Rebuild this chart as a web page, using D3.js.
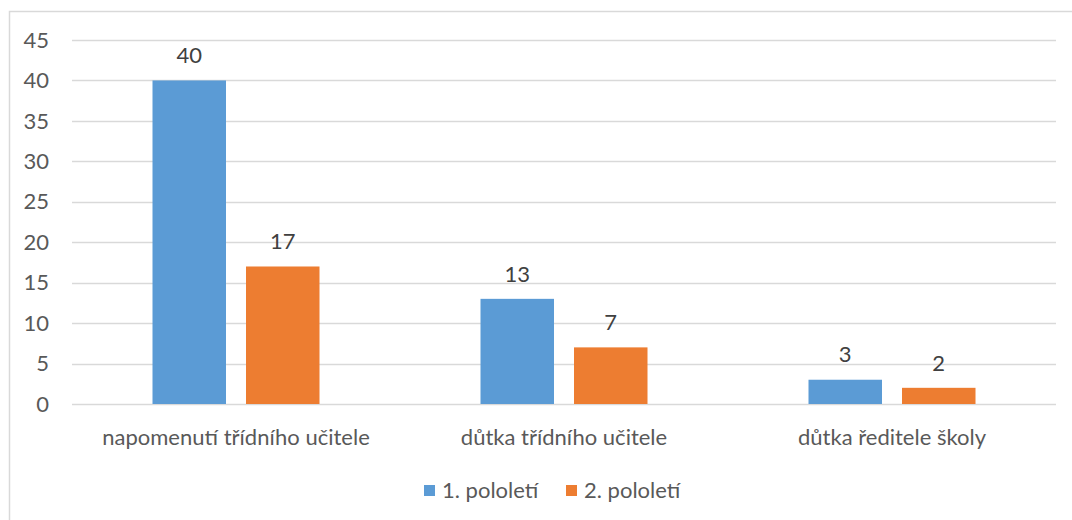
<div id="chart"></div>
<script src="https://d3js.org/d3.v7.min.js"></script>
<script>
var categories = ["napomenutí třídního učitele", "důtka třídního učitele", "důtka ředitele školy"];
var seriesNames = ["1. pololetí", "2. pololetí"];
var series1 = [40, 13, 3];
var series2 = [17, 7, 2];
var yTicks = [0, 5, 10, 15, 20, 25, 30, 35, 40, 45];
var colors = ["#5b9bd5", "#ed7d31"];

var width = 1072, height = 520;
var fontFam = "Lato, 'Open Sans', sans-serif";
var fs = "22px";

var svg = d3.select("#chart").append("svg")
  .attr("width", width).attr("height", height)
  .style("display", "block")
  .style("font-family", fontFam);

d3.select("body").style("margin", 0).style("background", "#fff");

// frame
svg.append("rect")
  .attr("x", 9.5).attr("y", 11.5)
  .attr("width", width).attr("height", height)
  .attr("fill", "none").attr("stroke", "#d9d9d9").attr("stroke-width", 1.5);

var x0 = d3.scaleBand().domain(categories).range([72, 1056]);
var x1 = d3.scaleBand().domain(seriesNames)
  .range([x0.bandwidth() / 2 - 83.5, x0.bandwidth() / 2 + 83.5]).paddingInner(0.214);
var y = d3.scaleLinear().domain([0, 45]).range([404, 40]);

// gridlines
svg.append("g").selectAll("line").data(yTicks).enter().append("line")
  .attr("x1", 72).attr("x2", 1056)
  .attr("y1", d => Math.round(y(d)) + 0.5).attr("y2", d => Math.round(y(d)) + 0.5)
  .attr("stroke", "#d9d9d9").attr("stroke-width", 1.5);

// y labels
svg.append("g").selectAll("text").data(yTicks).enter().append("text")
  .attr("x", 49).attr("y", d => y(d))
  .attr("dy", "0.35em").attr("text-anchor", "end")
  .attr("fill", "#595959").style("font-size", fs)
  .text(d => d);

var data = [series1, series2];
var groups = svg.append("g").selectAll("g").data(categories).enter().append("g")
  .attr("transform", d => "translate(" + x0(d) + ",0)");

groups.each(function(cat, ci) {
  var g = d3.select(this);
  seriesNames.forEach(function(s, si) {
    var v = data[si][ci];
    g.append("rect")
      .attr("x", x1(s)).attr("width", x1.bandwidth())
      .attr("y", y(v)).attr("height", y(0) - y(v))
      .attr("fill", colors[si]);
    g.append("text")
      .attr("x", x1(s) + x1.bandwidth() / 2).attr("y", y(v) - 25)
      .attr("text-anchor", "middle").attr("dy", "0.35em")
      .attr("fill", "#404040").style("font-size", fs)
      .text(v);
  });
  g.append("text")
    .attr("x", x0.bandwidth() / 2).attr("y", 437)
    .attr("text-anchor", "middle").attr("dy", "0.35em")
    .attr("fill", "#595959").style("font-size", fs)
    .text(cat);
});

// legend
var legendX = [424, 566];
var legend = svg.append("g").selectAll("g").data(seriesNames).enter().append("g")
  .attr("transform", (d, i) => "translate(" + legendX[i] + ",490)");
legend.append("rect").attr("x", 0).attr("y", -5).attr("width", 11).attr("height", 11)
  .attr("fill", (d, i) => colors[i]);
legend.append("text").attr("x", 18).attr("y", 0).attr("dy", "0.35em")
  .attr("fill", "#595959").style("font-size", fs)
  .text(d => d);
</script>
